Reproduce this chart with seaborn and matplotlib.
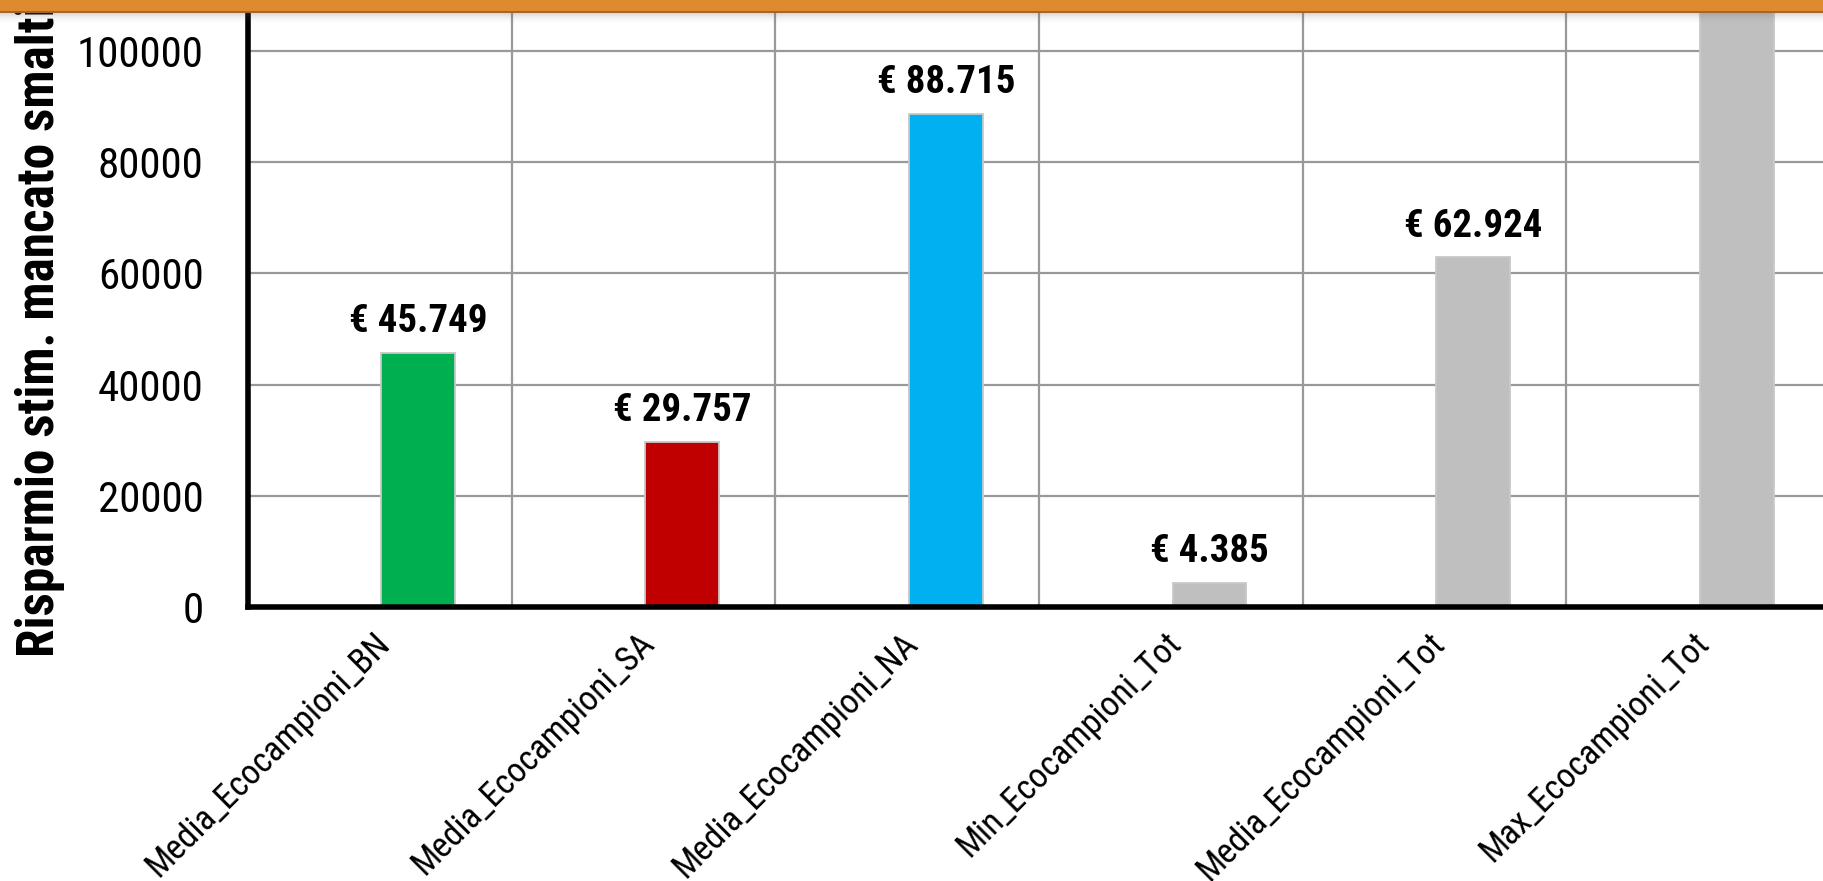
import numpy as np
import pandas as pd
import matplotlib
matplotlib.use("Agg")
import matplotlib.pyplot as plt
from matplotlib import font_manager as fm
from matplotlib.patches import Rectangle
import seaborn as sns

# Data
categorie = ["Media_Ecocampioni_BN", "Media_Ecocampioni_SA", "Media_Ecocampioni_NA",
             "Min_Ecocampioni_Tot", "Media_Ecocampioni_Tot", "Max_Ecocampioni_Tot"]
risparmio = [45749, 29757, 88715, 4385, 62924, 120000]
colori = ["#00B050", "#C00000", "#00B0F0", "#BFBFBF", "#BFBFBF", "#BFBFBF"]
y_ticks = [0, 20000, 40000, 60000, 80000, 100000]
y_label = "Risparmio stim. mancato smaltimento (€)"

sns.set_theme(style="white")

# Prefer a narrow sans face; fall back to the closest available one
fams = {f.name for f in fm.fontManager.ttflist}
dv_cond = any(f.name == "DejaVu Sans" and str(f.stretch) in ("condensed", "semi-condensed", "600", "700")
              for f in fm.fontManager.ttflist)
stretch = "normal"
if "Liberation Sans Narrow" in fams:
    family = "Liberation Sans Narrow"
elif "Roboto Condensed" in fams:
    family = "Roboto Condensed"
elif "Open Sans Condensed" in fams:
    family = "Open Sans Condensed"
elif dv_cond:
    family, stretch = "DejaVu Sans", "condensed"
else:
    family = "Liberation Sans"
plt.rcParams["font.family"] = [family, "DejaVu Sans"]
plt.rcParams["font.stretch"] = stretch

W, H = 1824, 881
fig = plt.figure(figsize=(W / 100, H / 100), dpi=100)
fig.patch.set_facecolor("white")

px_per_unit = 556 / 100000
y_top = 140000
ax = fig.add_axes([248 / W, 1 - 607 / H, 6 * 263.7 / W, y_top * px_per_unit / H])

df = pd.DataFrame({"categoria": categorie, "valore": risparmio})
sns.barplot(data=df, x="categoria", y="valore", hue="categoria",
            palette=dict(zip(categorie, colori)), saturation=1, width=0.28,
            edgecolor="#c8c8c8", linewidth=1.3, legend=False, ax=ax, zorder=3)

# Category cells: bar sits right of the cell centre
shift = 0.646
ax.set_xlim(-shift, len(categorie) - shift)
ax.set_ylim(0, y_top)

ax.set_xticks(np.arange(len(categorie) + 1) - shift)
ax.set_xticklabels([])
ax.set_xticks(np.arange(len(categorie)) - 0.17, minor=True)
ax.set_xticklabels(categorie, minor=True, rotation=45, ha="right", va="top",
                   rotation_mode="anchor", fontsize=25)
ax.tick_params(axis="x", which="minor", length=0, pad=14)
ax.tick_params(axis="x", which="major", direction="out", length=10, width=4,
               color="black")

ax.set_yticks(y_ticks)
ax.set_yticklabels([str(t) for t in y_ticks], fontsize=31)
ax.tick_params(axis="y", direction="out", length=10, width=4, color="black", pad=22)
for lab in ax.get_xticklabels(minor=True) + ax.get_yticklabels():
    lab.set_color("black")

ax.grid(True, which="major", color="#999999", linewidth=1.6)
ax.set_axisbelow(True)
for side in ["top", "right"]:
    ax.spines[side].set_visible(False)
for side in ["left", "bottom"]:
    ax.spines[side].set_color("black")
    ax.spines[side].set_linewidth(4)
    ax.spines[side].set_zorder(5)

ax.set_xlabel("")
ax.set_ylabel(y_label, fontsize=37, fontweight="bold", rotation=90, color="black",
              rotation_mode="anchor", ha="left", va="baseline")
ax.yaxis.set_label_coords(53 / W, 1 - 657 / H, transform=fig.transFigure)


def euro(v):
    return "€ " + f"{v:,.0f}".replace(",", ".")


for cont in ax.containers:
    ax.bar_label(cont, labels=[euro(v) for v in cont.datavalues], padding=9,
                 fontsize=28, fontweight="bold", color="black")

# Header band with its soft shadow
for k in range(12):
    fig.patches.append(Rectangle((0, 1 - (13 + k) / H), 1, 1 / H,
                                 transform=fig.transFigure, color="#606060",
                                 alpha=0.28 * (1 - k / 12) ** 2, lw=0, zorder=9))
fig.patches.append(Rectangle((0, 1 - 13 / H), 1, 2 / H, transform=fig.transFigure,
                             color="#A8642A", lw=0, zorder=10))
fig.patches.append(Rectangle((0, 1 - 11 / H), 1, 11 / H, transform=fig.transFigure,
                             color="#DF8A2F", lw=0, zorder=10))

fig.savefig("out.png", dpi=100)
